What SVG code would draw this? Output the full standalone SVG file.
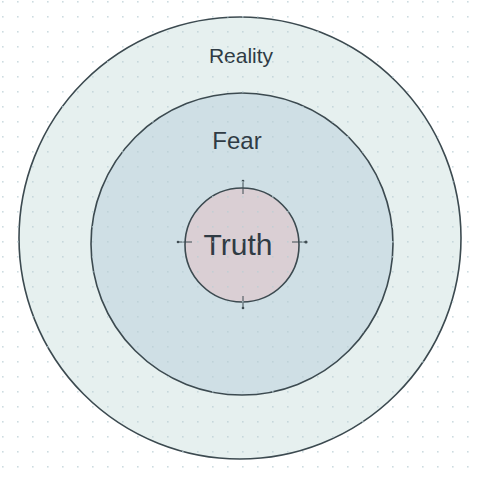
<svg xmlns="http://www.w3.org/2000/svg" width="480" height="480" viewBox="0 0 480 480">
  <defs>
    <pattern id="dots" x="2" y="1" width="15" height="15" patternUnits="userSpaceOnUse">
      <rect x="0" y="0" width="1.6" height="1.6" fill="#b8cdd3" opacity="0.7"/>
    </pattern>
    <style>
      .ring { stroke: #3c4a50; stroke-width: 1.6; }
      .lbl { font-family: "Liberation Sans", "DejaVu Sans", sans-serif; text-anchor: middle; fill: #2f3b44; }
      .tick { stroke: #3f4c52; stroke-width: 1; }
    </style>
  </defs>
  <rect width="480" height="480" fill="#ffffff"/>
  <g id="reality">
    <circle class="ring" cx="240" cy="238" r="221" fill="#e6f0ef"/>
    <text class="lbl" x="241" y="63" font-size="21">Reality</text>
  </g>
  <g id="fear">
    <circle class="ring" cx="242" cy="244" r="151" fill="#cfdfe5"/>
    <text class="lbl" x="237" y="149" font-size="24" fill="#34424d">Fear</text>
  </g>
  <g id="truth">
    <circle class="ring" cx="242" cy="245" r="57" fill="#dacfd4"/>
    <text class="lbl" x="238" y="255" font-size="30">Truth</text>
  </g>
  <g id="handles" class="tick">
    <line x1="243" y1="180" x2="243" y2="194"/>
    <line x1="178" y1="242" x2="192" y2="242"/>
    <line x1="292" y1="242" x2="306" y2="242"/>
    <line x1="243" y1="296" x2="243" y2="309"/>
    <circle cx="243" cy="181" r="1.3" fill="#3f4c52" stroke="none"/>
    <circle cx="178" cy="242" r="1.3" fill="#3f4c52" stroke="none"/>
    <circle cx="306" cy="242" r="1.6" fill="#3f4c52" stroke="none"/>
    <circle cx="243" cy="308" r="1.3" fill="#3f4c52" stroke="none"/>
  </g>
  <rect width="480" height="480" fill="url(#dots)"/>
</svg>
